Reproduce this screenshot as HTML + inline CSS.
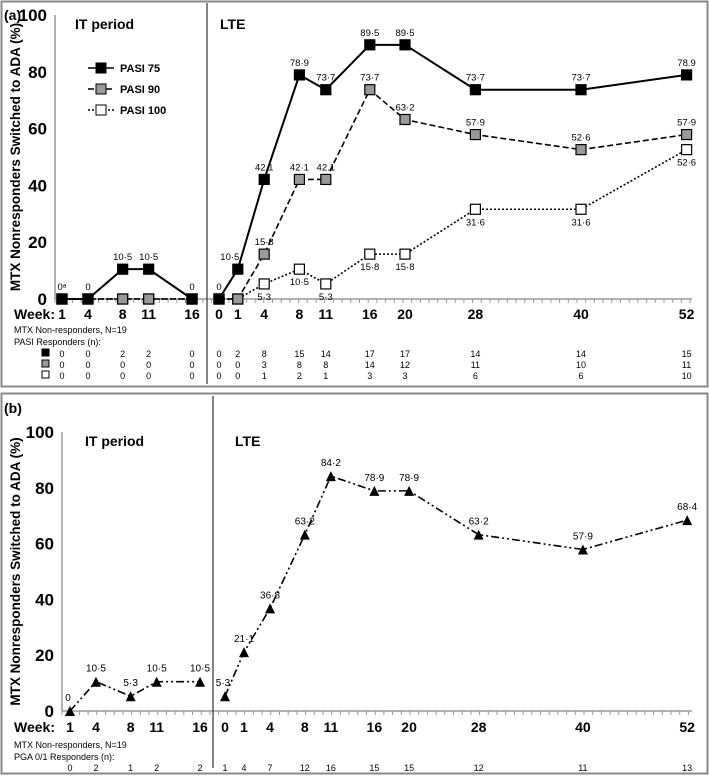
<!DOCTYPE html>
<html><head><meta charset="utf-8"><style>
body{margin:0;background:#fff;width:709px;height:776px;overflow:hidden}
svg{font-family:"Liberation Sans",sans-serif}
</style></head><body>
<svg width="709" height="776" id="fig">
<rect x="1.5" y="1.5" width="706" height="385" fill="none" stroke="#888" stroke-width="2"/>
<rect x="1.5" y="393.5" width="706" height="380" fill="none" stroke="#888" stroke-width="2"/>
<text x="4" y="20" font-size="14" font-weight="bold">(a)</text>
<text x="4" y="413" font-size="14" font-weight="bold">(b)</text>
<g id="ga"></g><g id="gb"></g>
</svg>
<script>
const NS='http://www.w3.org/2000/svg';
const itWeeks=[1,4,8,11,16];
const lteWeeks=[0,1,4,8,11,16,20,28,40,52];
const yTicks=[0,20,40,60,80,100];
const pasi75=[0,0,10.5,10.5,0, 0,10.5,42.1,78.9,73.7,89.5,89.5,73.7,73.7,78.9];
const pasi90=[0,0,0,0,0, 0,0,15.8,42.1,42.1,73.7,63.2,57.9,52.6,57.9];
const pasi100=[0,0,0,0,0, 0,0,5.3,10.5,5.3,15.8,15.8,31.6,31.6,52.6];
const pasi75Lbl=['0ᵃ','0','10·5','10·5','0','0','10·5','42.1','78·9','73·7','89·5','89·5','73·7','73·7','78.9'];
const pasi90Lbl=['','','','','','','','15·8','42·1','42.1','73·7','63·2','57·9','52·6','57·9'];
const pasi100Lbl=['','','','','','','','5·3','10·5','5·3','15·8','15·8','31·6','31·6','52·6'];
const n75=[0,0,2,2,0,0,2,8,15,14,17,17,14,14,15];
const n90=[0,0,0,0,0,0,0,3,8,8,14,12,11,10,11];
const n100=[0,0,0,0,0,0,0,1,2,1,3,3,6,6,10];
const pga=[0,10.5,5.3,10.5,10.5, 5.3,21.1,36.8,63.2,84.2,78.9,78.9,63.2,57.9,68.4];
const pgaLbl=['0','10·5','5·3','10·5','10·5','5·3','21·1','36·8','63·2','84·2','78·9','78·9','63·2','57·9','68·4'];
const nPga=[0,2,1,2,2,1,4,7,12,16,15,15,12,11,13];

function el(p,tag,attrs,name,txt){const e=document.createElementNS(NS,tag);for(const k in attrs)e.setAttribute(k,attrs[k]);


if(txt!==undefined)e.textContent=txt;p.appendChild(e);return e;}

function panel(g,cfg){
  const X=i=>{if(i<5)return cfg.itA+itWeeks[i]*cfg.itK;const w=lteWeeks[i-5];return w===0?cfg.l0:cfg.lA+w*cfg.lK;};
  const Y=v=>cfg.y0-(cfg.y0-cfg.y100)*v/100;
  el(g,'line',{x1:cfg.ax,y1:cfg.y100,x2:cfg.ax,y2:cfg.y0,stroke:'#999','stroke-width':1.5},'y-axis');
  el(g,'line',{x1:cfg.ax,y1:cfg.y0,x2:692,y2:cfg.y0,stroke:'#999','stroke-width':1.5},'x-axis');
  for(let x=cfg.ax;x<=692;x+=8.7)el(g,'line',{x1:x,y1:cfg.y0,x2:x,y2:cfg.y0+4,stroke:'#999'},'x-tick');
  yTicks.forEach(t=>el(g,'text',{x:cfg.ax-8,y:Y(t)+6,'font-size':17,'font-weight':'bold','text-anchor':'end'},'y-tick-label',t));
  const yc=(cfg.y0+cfg.y100)/2;
  el(g,'text',{x:20,y:yc,'font-size':13.5,'font-weight':'bold','text-anchor':'middle',transform:`rotate(-90 20 ${yc})`},'y-axis-title','MTX Nonresponders Switched to ADA (%)');
  el(g,'line',{x1:cfg.div,y1:cfg.divTop,x2:cfg.div,y2:cfg.divBot,stroke:'#333','stroke-width':1.2},'period-divider');
  el(g,'text',{x:cfg.itLx,y:cfg.y100+14,'font-size':14,'font-weight':'bold'},'it-period-label','IT period');
  el(g,'text',{x:cfg.lteLx,y:cfg.y100+14,'font-size':14,'font-weight':'bold'},'lte-label','LTE');
  el(g,'text',{x:14,y:cfg.wy,'font-size':14,'font-weight':'bold'},'week-label','Week:');
  [...itWeeks,...lteWeeks].forEach((w,i)=>el(g,'text',{x:X(i),y:cfg.wy,'font-size':14,'font-weight':'bold','text-anchor':'middle'},'week-tick-label',w));
  return {X,Y};
}
function series(g,X,Y,vals,dash,name){
  let d='';vals.forEach((v,i)=>{if(i===5||i===0)d+='M';else d+='L';d+=X(i)+','+Y(v);});
  el(g,'path',{d,fill:'none',stroke:'#000','stroke-width':dash==='s'?2:1.6,'stroke-dasharray':dash==='s'?'none':dash},name+'-line');
}
// Panel A
const ga=document.getElementById('ga');
const A=panel(ga,{itA:53.3,itK:8.67,l0:219,lA:229,lK:8.8,y0:299,y100:15,ax:55,div:207,divTop:3,divBot:384,itLx:75,lteLx:220,wy:319});
series(ga,A.X,A.Y,pasi100,'2,2','pasi-100');
series(ga,A.X,A.Y,pasi90,'6,3','pasi-90');
series(ga,A.X,A.Y,pasi75,'s','pasi-75');
function markers(vals,fill,name,sz){vals.forEach((v,i)=>{el(ga,'rect',{x:A.X(i)-sz/2,y:A.Y(v)-sz/2,width:sz,height:sz,fill,stroke:'#000','stroke-width':1.2},name+'-marker');});}
markers(pasi100,'#fff','pasi-100',10);markers(pasi90,'#999','pasi-90',10);markers(pasi75,'#000','pasi-75',10);
pasi75Lbl.forEach((t,i)=>{if(t)el(ga,'text',{x:A.X(i)-(i===6?8:0),y:A.Y(pasi75[i])-9,'font-size':9.5,'text-anchor':'middle'},'pasi-75-value',t);});
pasi90Lbl.forEach((t,i)=>{if(t)el(ga,'text',{x:A.X(i),y:A.Y(pasi90[i])-9,'font-size':9.5,'text-anchor':'middle'},'pasi-90-value',t);});
pasi100Lbl.forEach((t,i)=>{if(t)el(ga,'text',{x:A.X(i),y:A.Y(pasi100[i])+16,'font-size':9.5,'text-anchor':'middle'},'pasi-100-value',t);});
[['PASI 75','#000','s'],['PASI 90','#999','6,3'],['PASI 100','#fff','2,2']].forEach((l,k)=>{const y=68+k*21;
 el(ga,'line',{x1:88,y1:y,x2:114,y2:y,stroke:'#000','stroke-width':1.6,'stroke-dasharray':l[2]==='s'?'none':l[2]},'legend-line');
 el(ga,'rect',{x:96,y:y-5,width:10,height:10,fill:l[1],stroke:'#000'},'legend-marker');
 el(ga,'text',{x:120,y:y+4,'font-size':11,'font-weight':'bold'},'legend-entry',l[0]);});
el(ga,'text',{x:14,y:333,'font-size':9},'n-label','MTX Non-responders, N=19');
el(ga,'text',{x:14,y:345,'font-size':9},'responders-label','PASI Responders (n):');
[[n75,'#000'],[n90,'#999'],[n100,'#fff']].forEach((r,k)=>{const y=357+k*11;
 el(ga,'rect',{x:42,y:y-8,width:7,height:7,fill:r[1],stroke:'#000'},'table-row-marker');
 r[0].forEach((v,i)=>el(ga,'text',{x:A.X(i),y,'font-size':9,'text-anchor':'middle'},'responder-count',v));});
// Panel B
const gb=document.getElementById('gb');
const B=panel(gb,{itA:61.3,itK:8.67,l0:225,lA:235.3,lK:8.69,y0:711,y100:432,ax:62,div:213,divTop:396,divBot:768,itLx:85,lteLx:235,wy:732});
series(gb,B.X,B.Y,pga,'8,3,2,3,2,3','pga');
pga.forEach((v,i)=>{const x=B.X(i),y=B.Y(v);el(gb,'path',{d:`M${x-5},${y+5}L${x+5},${y+5}L${x},${y-5}Z`,fill:'#000'},'pga-marker');});
pgaLbl.forEach((t,i)=>{const dx=i===0||i===5?-2:0;el(gb,'text',{x:B.X(i)+dx,y:B.Y(pga[i])-10,'font-size':10,'text-anchor':'middle'},'pga-value',t);});
el(gb,'text',{x:14,y:748,'font-size':9},'n-label','MTX Non-responders, N=19');
el(gb,'text',{x:14,y:760,'font-size':9},'responders-label','PGA 0/1 Responders (n):');
nPga.forEach((v,i)=>el(gb,'text',{x:B.X(i),y:771,'font-size':9,'text-anchor':'middle'},'responder-count',v));
</script>
</body></html>
